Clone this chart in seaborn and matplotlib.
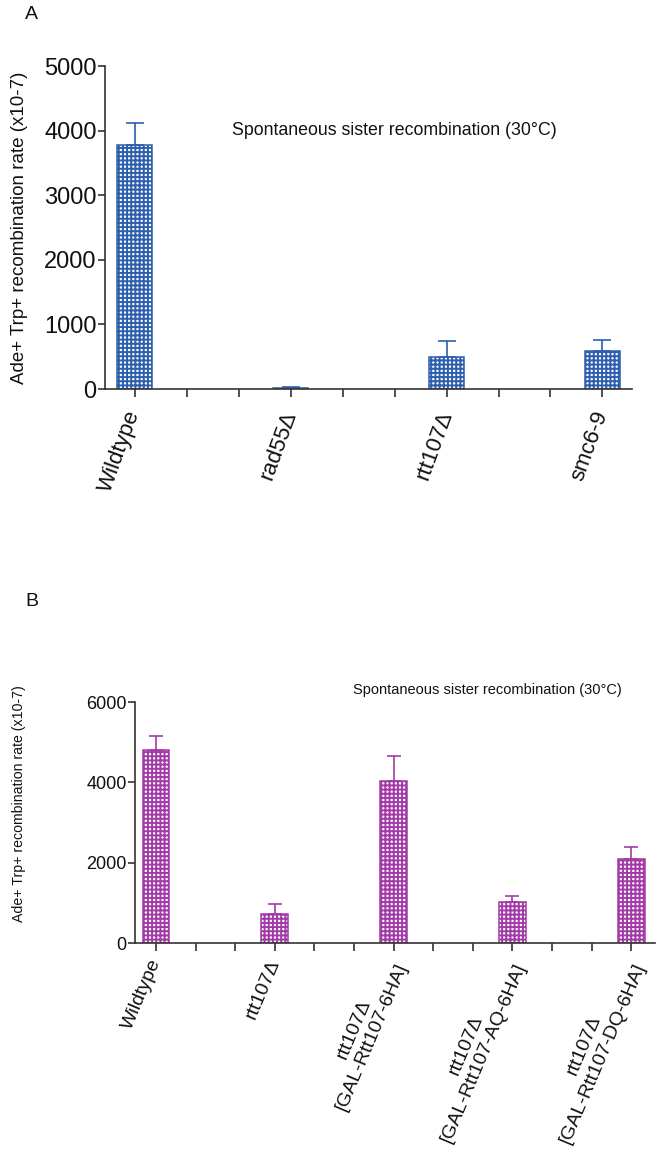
import numpy as np
import pandas as pd
import matplotlib
matplotlib.use("Agg")
import matplotlib.pyplot as plt
import seaborn as sns

# ---------------- data ----------------
a_labels = ["Wildtype", "rad55Δ", "rtt107Δ", "smc6-9"]
a_values = [3780, 20, 500, 590]
a_err = [340, 15, 240, 170]

b_labels = ["Wildtype", "rtt107Δ", "rtt107Δ\n[GAL-Rtt107-6HA]",
            "rtt107Δ\n[GAL-Rtt107-AQ-6HA]", "rtt107Δ\n[GAL-Rtt107-DQ-6HA]"]
b_values = [4800, 720, 4030, 1010, 2100]
b_err = [350, 240, 620, 160, 290]

a_yticks = [0, 1000, 2000, 3000, 4000, 5000]
b_yticks = [0, 2000, 4000, 6000]

title = "Spontaneous sister recombination (30°C)"
ylab = "Ade+ Trp+ recombination rate (x10-7)"

sns.set_theme(style="ticks")
plt.rcParams["font.family"] = ["Liberation Sans", "DejaVu Sans"]
plt.rcParams["hatch.linewidth"] = 1.4

fig = plt.figure(figsize=(6.64, 11.52), dpi=100)

AX = "#333333"


def panel(ax, labels, values, errs, color, yticks, tick_fs, xlab_fs, rot, xpad,
          title_fs, ylab_fs, title_xy, cap, xlim):
    step = 3
    pos = [i * step for i in range(len(labels))]
    df = pd.DataFrame({"pos": pos, "val": values})
    sns.barplot(data=df, x="pos", y="val", native_scale=True, width=0.225,
                color="white", saturation=1, edgecolor=color, linewidth=1.1,
                hatch="++++", errorbar=None, ax=ax)
    ax.errorbar(pos, values, yerr=[np.zeros(len(errs)), errs], fmt="none",
                ecolor=color, elinewidth=1.2, capsize=cap, capthick=1.2)
    ax.set_xlim(*xlim)
    ax.set_ylim(0, yticks[-1])
    ax.set_yticks(yticks)
    ax.set_yticklabels([str(t) for t in yticks], fontsize=tick_fs, color="#111111")
    n_ticks = pos[-1] + 1
    ax.set_xticks(range(n_ticks))
    lab = [""] * n_ticks
    for p, l in zip(pos, labels):
        lab[p] = l
    ax.set_xticklabels(lab, rotation=rot, ha="right", va="center",
                       rotation_mode="anchor", fontsize=xlab_fs,
                       multialignment="center", color="#111111")
    ax.set_xlabel("")
    ax.set_ylabel(ylab, fontsize=ylab_fs, color="#111111")
    for s in ["top", "right"]:
        ax.spines[s].set_visible(False)
    for s in ["left", "bottom"]:
        ax.spines[s].set_color(AX)
        ax.spines[s].set_linewidth(1.2)
    ax.tick_params(axis="y", colors=AX, width=1.2, length=5, pad=1,
                   labelcolor="#111111")
    ax.tick_params(axis="x", colors=AX, width=1.2, length=6, pad=xpad,
                   labelcolor="#111111")
    ax.text(title_xy[0], title_xy[1], title, transform=ax.transAxes,
            fontsize=title_fs, color="#111111", ha="left", va="center")


# Panel A
axA = fig.add_axes([0.158, 0.6623, 0.794, 0.2804])
panel(axA, a_labels, a_values, a_err, "#2e5fae", a_yticks, 17, 16, 70, 10,
      12.8, 13.5, (0.242, 0.80), 6.5, (-0.57, 9.57))
axA.yaxis.set_label_coords(-0.145, 0.5)
fig.text(0.038, 0.987, "A", fontsize=14, color="#111111", va="center")

# Panel B
axB = fig.add_axes([0.2033, 0.1814, 0.7831, 0.2092])
panel(axB, b_labels, b_values, b_err, "#a23aa8", b_yticks, 13, 14, 67, 6,
      10.5, 10.2, (0.42, 1.05), 5, (-0.53, 12.6))
axB.yaxis.set_label_coords(-0.21, 0.58)
fig.text(0.038, 0.478, "B", fontsize=14, color="#111111", va="center")

fig.savefig("out.png", dpi=100)
